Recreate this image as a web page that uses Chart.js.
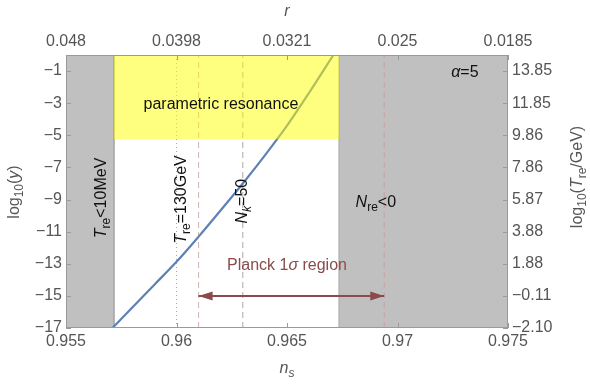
<!DOCTYPE html>
<html>
<head>
    <title>Reheating constraints, alpha = 5</title>
    <style>
        body { margin: 0; background: #fff; }
    </style>
</head>
<body>
    <canvas id="myChart" width="590" height="385"></canvas>
    <script src="https://cdn.jsdelivr.net/npm/chart.js@4.4.0/dist/chart.umd.min.js"></script>
    <script type="text/javascript">
        // axes
        const nsRange = [0.955, 0.975];
        const yRange = [-17, 0];
        const nsTicks = [0.955, 0.96, 0.965, 0.97, 0.975];
        const nsTickLabels = ['0.955', '0.96', '0.965', '0.97', '0.975'];
        const rTickLabels = ['0.048', '0.0398', '0.0321', '0.025', '0.0185'];
        const yTicks = [-1, -3, -5, -7, -9, -11, -13, -15, -17];
        const yTickLabels = ['\u22121', '\u22123', '\u22125', '\u22127', '\u22129', '\u221211', '\u221213', '\u221215', '\u221217'];
        const tReTickLabels = ['13.85', '11.85', '9.86', '7.86', '5.87', '3.88', '1.88', '\u22120.11', '\u22122.10'];

        // log10(y) against ns
        const curveNs = [0.9571, 0.958, 0.959, 0.960, 0.961, 0.962, 0.963, 0.964, 0.965, 0.966, 0.9671];
        const curveY = [-17, -15.72, -14.30, -12.88, -11.31, -9.67, -8.0, -6.25, -4.40, -2.35, 0];

        // regions and markers
        const lowTempEdge = 0.95717;   // T_re < 10 MeV below this
        const negNreEdge = 0.96735;    // N_re < 0 above this
        const resonanceY = -5.25;      // parametric resonance above this
        const tre130 = 0.96;
        const nk50 = 0.963;
        const planckNs = [0.961, 0.9694];
        const planckY = -15;

        const FONT = '"Liberation Sans", Arial, sans-serif';

        function vline(x) {
            return [{ x: x, y: yRange[0] }, { x: x, y: yRange[1] }];
        }
        function box(x0, x1, y1) {
            return [{ x: x0, y: yRange[0] }, { x: x0, y: y1 }, { x: x1, y: y1 }, { x: x1, y: yRange[0] }];
        }

        function fontFor(style, size) {
            const sub = style.includes('s');
            const it = style.includes('i');
            return (it ? 'italic ' : '') + (sub ? Math.round(size * 0.72) : size) + 'px ' + FONT;
        }
        // parts: [[text, style]], style: '' normal, 'i' italic, 's' subscript
        function richText(ctx, parts, x, y, size, color) {
            let w = 0;
            for (const p of parts) { ctx.font = fontFor(p[1], size); w += ctx.measureText(p[0]).width; }
            let cx = x - w / 2;
            ctx.fillStyle = color;
            ctx.textBaseline = 'middle';
            ctx.textAlign = 'left';
            for (const p of parts) {
                ctx.font = fontFor(p[1], size);
                const dy = p[1].includes('s') ? size * 0.3 : 0;
                ctx.fillText(p[0], cx, y + dy);
                cx += ctx.measureText(p[0]).width;
            }
        }
        function rotatedText(ctx, parts, x, y, size, color) {
            ctx.save();
            ctx.translate(x, y);
            ctx.rotate(-Math.PI / 2);
            richText(ctx, parts, 0, 0, size, color);
            ctx.restore();
        }

        const decorations = {
            id: 'decorations',
            afterDatasetsDraw(chart) {
                const ctx = chart.ctx;
                const a = chart.chartArea;
                const sx = chart.scales.x, sy = chart.scales.y;
                const px = v => sx.getPixelForValue(v);
                const py = v => sy.getPixelForValue(v);

                // arrow heads
                const arrow = chart.getDatasetMeta(0).data;
                ctx.save();
                ctx.fillStyle = '#8b4b4b';
                [[arrow[0], 1], [arrow[1], -1]].forEach(([pt, dir]) => {
                    ctx.beginPath();
                    ctx.moveTo(pt.x, pt.y);
                    ctx.lineTo(pt.x + dir * 14, pt.y - 4.5);
                    ctx.lineTo(pt.x + dir * 14, pt.y + 4.5);
                    ctx.closePath();
                    ctx.fill();
                });
                ctx.restore();

                // frame and inward ticks
                ctx.save();
                ctx.strokeStyle = '#9a9a9a';
                ctx.lineWidth = 1;
                ctx.strokeRect(a.left + 0.5, a.top + 0.5, a.right - a.left - 1, a.bottom - a.top - 1);
                ctx.beginPath();
                nsTicks.forEach(v => {
                    const x = Math.round(px(v)) + 0.5;
                    ctx.moveTo(x, a.bottom); ctx.lineTo(x, a.bottom - 5);
                    ctx.moveTo(x, a.top); ctx.lineTo(x, a.top + 5);
                });
                yTicks.forEach(v => {
                    const y = Math.round(py(v)) + 0.5;
                    ctx.moveTo(a.left, y); ctx.lineTo(a.left + 5, y);
                    ctx.moveTo(a.right, y); ctx.lineTo(a.right - 5, y);
                });
                ctx.stroke();
                ctx.restore();

                // labels inside the plot
                rotatedText(ctx, [['T', 'i'], ['re', 's'], ['<10MeV', '']], px(0.95663), py(-8.9), 16, '#111');
                rotatedText(ctx, [['T', 'i'], ['re', 's'], ['=130GeV', '']], px(0.96025), py(-9.0), 16, '#111');
                rotatedText(ctx, [['N', 'i'], ['k', 'is'], ['=50', '']], px(0.96301), py(-9.1), 16, '#111');
                richText(ctx, [['N', 'i'], ['re', 's'], ['<0', '']], px(0.96902), py(-9.2), 16, '#111');
                richText(ctx, [['parametric resonance', '']], px(0.96201), py(-3.1), 16, '#111');
                richText(ctx, [['\u03b1', 'i'], ['=5', '']], px(0.97305), py(-1.1), 16, '#111');
                richText(ctx, [['Planck 1', ''], ['\u03c3', 'i'], [' region', '']], px(0.965), py(-13.1), 16, '#8b4b4b');
            },
            afterDraw(chart) {
                const ctx = chart.ctx;
                const a = chart.chartArea;
                const midX = (a.left + a.right) / 2;
                const gray = '#555';
                richText(ctx, [['r', 'i']], midX, 12, 16, gray);
                richText(ctx, [['n', 'i'], ['s', 'is']], midX, 369, 16, gray);
                rotatedText(ctx, [['log', ''], ['10', 's'], ['(', ''], ['y', 'i'], [')', '']], 15, 192, 16, gray);
                rotatedText(ctx, [['log', ''], ['10', 's'], ['(', ''], ['T', 'i'], ['re', 's'], ['/GeV)', '']], 578, 177, 16, gray);
            }
        };

        function axis(position, labels, ticks, size) {
            const horizontal = position === 'top' || position === 'bottom';
            return {
                type: 'linear',
                position: position,
                min: horizontal ? nsRange[0] : yRange[0],
                max: horizontal ? nsRange[1] : yRange[1],
                grid: { display: false, drawTicks: false },
                border: { display: false },
                afterBuildTicks: s => { s.ticks = ticks.map(v => ({ value: v })); },
                afterFit: s => { if (horizontal) s.height = size; else s.width = size; },
                ticks: {
                    autoSkip: false,
                    maxRotation: 0,
                    color: '#555',
                    font: { family: FONT, size: 16 },
                    padding: 4,
                    callback: (v, i) => labels[i]
                }
            };
        }

        const ctx = document.getElementById('myChart').getContext('2d');
        const chart = new Chart(ctx, {
            type: 'line',
            data: {
                datasets: [
                    {
                        label: 'Planck 1 sigma',
                        data: planckNs.map(x => ({ x: x, y: planckY })),
                        borderColor: '#8b4b4b', borderWidth: 2, pointRadius: 0, order: 0
                    },
                    {
                        label: 'parametric resonance',
                        data: [{ x: lowTempEdge, y: yRange[1] }, { x: negNreEdge, y: yRange[1] }],
                        fill: { value: resonanceY },
                        backgroundColor: 'rgba(255, 255, 0, 0.5)',
                        borderWidth: 0, pointRadius: 0, order: 1
                    },
                    {
                        label: 'log10(y)',
                        data: curveNs.map((x, i) => ({ x: x, y: curveY[i] })),
                        borderColor: '#5e81b5', borderWidth: 2.2, pointRadius: 0,
                        cubicInterpolationMode: 'monotone', order: 2
                    },
                    {
                        label: 'T_re = 130 GeV',
                        data: vline(tre130),
                        borderColor: '#aaaaaa', borderWidth: 1, borderDash: [1, 3], pointRadius: 0, order: 3
                    },
                    {
                        label: 'N_k = 50',
                        data: vline(nk50),
                        borderColor: '#a8a8a8', borderWidth: 1, borderDash: [6, 4], pointRadius: 0, order: 3
                    },
                    {
                        label: 'Planck left',
                        data: vline(planckNs[0]),
                        borderColor: '#d2b0b0', borderWidth: 1, borderDash: [6, 4], pointRadius: 0, order: 3
                    },
                    {
                        label: 'Planck right',
                        data: vline(planckNs[1]),
                        borderColor: '#c9a0a0', borderWidth: 1, borderDash: [6, 4], pointRadius: 0, order: 3
                    },
                    {
                        label: 'T_re < 10 MeV',
                        data: box(nsRange[0], lowTempEdge, yRange[1]),
                        fill: { value: yRange[0] },
                        backgroundColor: '#c0c0c0', borderColor: '#a9a9a9', borderWidth: 1,
                        pointRadius: 0, order: 4
                    },
                    {
                        label: 'N_re < 0',
                        data: box(negNreEdge, nsRange[1], yRange[1]),
                        fill: { value: yRange[0] },
                        backgroundColor: '#c0c0c0', borderColor: '#a9a9a9', borderWidth: 1,
                        pointRadius: 0, order: 4
                    }
                ]
            },
            options: {
                responsive: false,
                animation: false,
                devicePixelRatio: 1,
                layout: { padding: 0 },
                plugins: { legend: { display: false }, tooltip: { enabled: false } },
                scales: {
                    x: axis('bottom', nsTickLabels, nsTicks, 57),
                    x2: axis('top', rTickLabels, nsTicks, 55),
                    y: axis('left', yTickLabels, yTicks, 66),
                    y2: axis('right', tReTickLabels, yTicks, 82)
                }
            },
            plugins: [decorations]
        });
    </script>
</body>
</html>
